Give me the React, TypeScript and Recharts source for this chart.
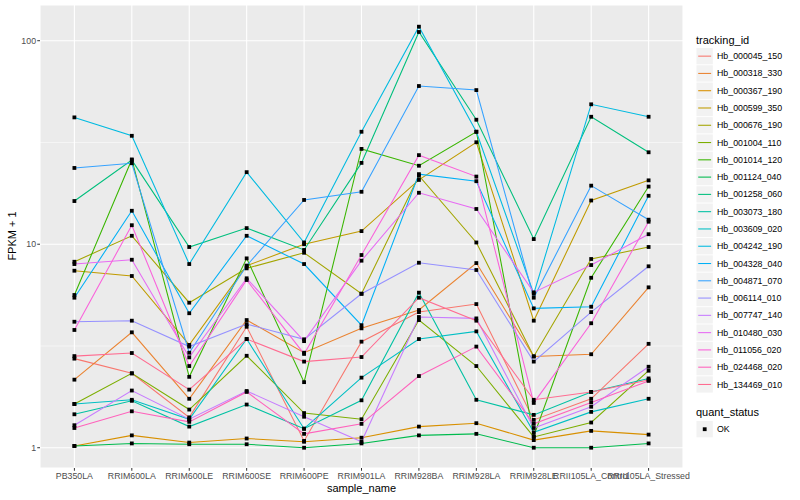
import { LineChart, Line, XAxis, YAxis, CartesianGrid } from 'recharts'

const samples = [
  'PB350LA', 'RRIM600LA', 'RRIM600LE', 'RRIM600SE', 'RRIM600PE', 'RRIM901LA',
  'RRIM928BA', 'RRIM928LA', 'RRIM928LE', 'RRII105LA_Control', 'RRII105LA_Stressed',
]

const trackingIds = [
  'Hb_000045_150', 'Hb_000318_330', 'Hb_000367_190', 'Hb_000599_350', 'Hb_000676_190',
  'Hb_001004_110', 'Hb_001014_120', 'Hb_001124_040', 'Hb_001258_060', 'Hb_003073_180',
  'Hb_003609_020', 'Hb_004242_190', 'Hb_004328_040', 'Hb_004871_070', 'Hb_006114_010',
  'Hb_007747_140', 'Hb_010480_030', 'Hb_011056_020', 'Hb_024468_020', 'Hb_134469_010',
]

// ggplot default hue palette, 20 levels
const colors = [
  '#F8766D', '#EA8331', '#D89000', '#C09B00', '#A3A500',
  '#7CAE00', '#39B600', '#00BB4E', '#00BF7D', '#00C1A3',
  '#00BFC4', '#00BAE0', '#00B0F6', '#35A2FF', '#9590FF',
  '#C77CFF', '#E76BF3', '#FA62DB', '#FF62BC', '#FF6C91',
]

// FPKM + 1, one value per sample
const hb000045 = [2.74, 2.32, 1.41, 3.93, 1.08, 3.32, 4.64, 5.08, 1.37, 1.74, 3.24]
const hb000318 = [2.16, 3.69, 1.74, 4.24, 2.93, 3.86, 4.75, 8.08, 2.81, 2.88, 6.14]
const hb000367 = [1.02, 1.15, 1.06, 1.11, 1.07, 1.12, 1.27, 1.32, 1.09, 1.21, 1.16]
const hb000599 = [7.41, 6.98, 3.2, 7.84, 10.0, 11.6, 20.7, 31.7, 4.21, 16.4, 20.6]
const hb000676 = [8.2, 11.0, 5.16, 7.61, 9.08, 5.71, 21.7, 10.2, 2.81, 8.46, 9.69]
const hb001004 = [1.64, 2.32, 1.54, 2.83, 1.48, 1.38, 4.24, 2.52, 1.13, 1.33, 2.39]
const hb001014 = [5.63, 26.1, 2.23, 8.52, 2.1, 29.4, 24.3, 35.7, 1.14, 6.84, 19.2]
const hb001124 = [1.02, 1.05, 1.04, 1.04, 1.0, 1.05, 1.15, 1.17, 1.0, 1.0, 1.05]
const hb001258 = [16.3, 25.9, 9.69, 12.0, 9.37, 25.1, 110.4, 40.9, 10.6, 42.3, 28.3]
const hb003073 = [1.46, 1.7, 1.27, 1.63, 1.24, 1.71, 5.78, 1.72, 1.45, 1.88, 2.19]
const hb003609 = [1.64, 1.72, 1.38, 3.42, 1.24, 2.21, 3.42, 3.73, 1.19, 1.5, 1.74]
const hb004242 = [42.0, 34.1, 7.99, 22.6, 10.2, 35.7, 117.2, 35.7, 5.71, 48.7, 42.3]
const hb004328 = [5.46, 14.6, 4.58, 11.0, 7.99, 4.0, 22.1, 20.4, 4.84, 4.93, 17.3]
const hb004871 = [23.7, 25.0, 2.93, 7.84, 16.5, 18.1, 59.9, 57.2, 5.46, 19.4, 13.2]
const hb006114 = [4.16, 4.21, 3.14, 4.05, 3.41, 5.71, 8.11, 7.47, 2.65, 4.64, 7.79]
const hb007747 = [1.29, 1.91, 1.38, 1.9, 1.42, 1.07, 4.39, 4.32, 1.25, 1.59, 2.5]
const hb010480 = [7.99, 8.39, 2.78, 6.8, 3.34, 8.3, 17.9, 14.9, 5.8, 7.9, 11.2]
const hb011056 = [3.79, 12.4, 2.52, 6.67, 2.89, 8.85, 27.4, 21.5, 1.66, 4.09, 12.9]
const hb024468 = [1.25, 1.51, 1.34, 1.88, 1.17, 1.31, 2.25, 3.14, 1.31, 1.67, 2.13]
const hb134469 = [2.82, 2.92, 1.93, 3.42, 2.65, 2.79, 5.46, 4.21, 1.72, 1.88, 2.15]

const seriesValues = [
  hb000045, hb000318, hb000367, hb000599, hb000676, hb001004, hb001014, hb001124, hb001258, hb003073,
  hb003609, hb004242, hb004328, hb004871, hb006114, hb007747, hb010480, hb011056, hb024468, hb134469,
]

const yDomain = [0.795, 149.8]
const yTicks = [1, 10, 100]
const yMinor = [3.1623, 31.623]

const data = samples.map((s, i) => {
  const row: Record<string, any> = { sample: s }
  trackingIds.forEach((id, k) => { row[id] = seriesValues[k][i] })
  return row
})

const FONT = '"Liberation Sans", Arial, Helvetica, sans-serif'

// minor grid lines sit between the decades, same log mapping as the axis
function minorGrid(p: any) {
  const top = p?.offset?.top ?? 5
  const h = p?.offset?.height ?? 463
  const lo = Math.log10(yDomain[0])
  const hi = Math.log10(yDomain[1])
  return yMinor.map(v => top + h * (hi - Math.log10(v)) / (hi - lo))
}

function SquareDot(props: any) {
  const { cx, cy } = props
  if (cx == null || cy == null) return null
  return <rect x={cx - 1.9} y={cy - 1.9} width={3.8} height={3.8} fill="#000" />
}

export default function App() {
  const keyTop = 48
  const keyStep = 17.28
  return (
    <div style={{ position: 'absolute', left: 0, top: 0, width: 800, height: 500, background: '#fff', fontFamily: FONT }}>
      <LineChart width={800} height={500} data={data} margin={{ top: 5, right: 117, bottom: 0, left: 0 }}>
        <CartesianGrid fill="#EBEBEB" stroke="#fff" strokeWidth={1.1} />
        <CartesianGrid vertical={false} stroke="#fff" strokeWidth={0.55} horizontalCoordinatesGenerator={minorGrid} />
        <XAxis
          dataKey="sample"
          padding={{ left: 34.4, right: 34.4 }}
          interval={0}
          height={32}
          tickSize={2.75}
          tickMargin={2}
          axisLine={false}
          tickLine={{ stroke: '#333333' }}
          tick={{ fontSize: 8.8, fill: '#4D4D4D', fontFamily: FONT }}
        />
        <YAxis
          scale="log"
          domain={yDomain}
          allowDataOverflow
          ticks={yTicks}
          width={40}
          tickSize={2.75}
          tickMargin={1.2}
          axisLine={false}
          tickLine={{ stroke: '#333333' }}
          tick={{ fontSize: 8.8, fill: '#4D4D4D', fontFamily: FONT }}
        />
        {trackingIds.map((id, k) => (
          <Line key={id} type="linear" dataKey={id} stroke={colors[k]} strokeWidth={1.07}
            dot={false} activeDot={false} isAnimationActive={false} />
        ))}
        {trackingIds.map((id) => (
          <Line key={id + '_pt'} type="linear" dataKey={id} stroke="none" legendType="none"
            dot={<SquareDot />} activeDot={false} isAnimationActive={false} />
        ))}
      </LineChart>

      <svg width={800} height={500} style={{ position: 'absolute', left: 0, top: 0, pointerEvents: 'none' }}>
        <text x={361.5} y={492} textAnchor="middle" fontSize={11} fill="#000" fontFamily={FONT}>sample_name</text>
        <text x={0} y={0} transform="translate(15.5,236) rotate(-90)" textAnchor="middle" fontSize={11} fill="#000" fontFamily={FONT}>FPKM + 1</text>

        <text x={696} y={44} fontSize={11} fill="#000" fontFamily={FONT}>tracking_id</text>
        {trackingIds.map((id, k) => {
          const y = keyTop + k * keyStep
          return (
            <g key={id}>
              <rect x={696.5} y={y} width={16.3} height={16.3} fill="#F2F2F2" />
              <line x1={698.2} x2={711.1} y1={y + 8.15} y2={y + 8.15} stroke={colors[k]} strokeWidth={1.07} />
              <text x={717} y={y + 11.2} fontSize={8.8} fill="#000" fontFamily={FONT}>{id}</text>
            </g>
          )
        })}

        <text x={696} y={416} fontSize={11} fill="#000" fontFamily={FONT}>quant_status</text>
        <rect x={696.5} y={421} width={16.3} height={16.3} fill="#F2F2F2" />
        <rect x={702.8} y={427.3} width={3.8} height={3.8} fill="#000" />
        <text x={717} y={432.3} fontSize={8.8} fill="#000" fontFamily={FONT}>OK</text>
      </svg>
    </div>
  )
}
